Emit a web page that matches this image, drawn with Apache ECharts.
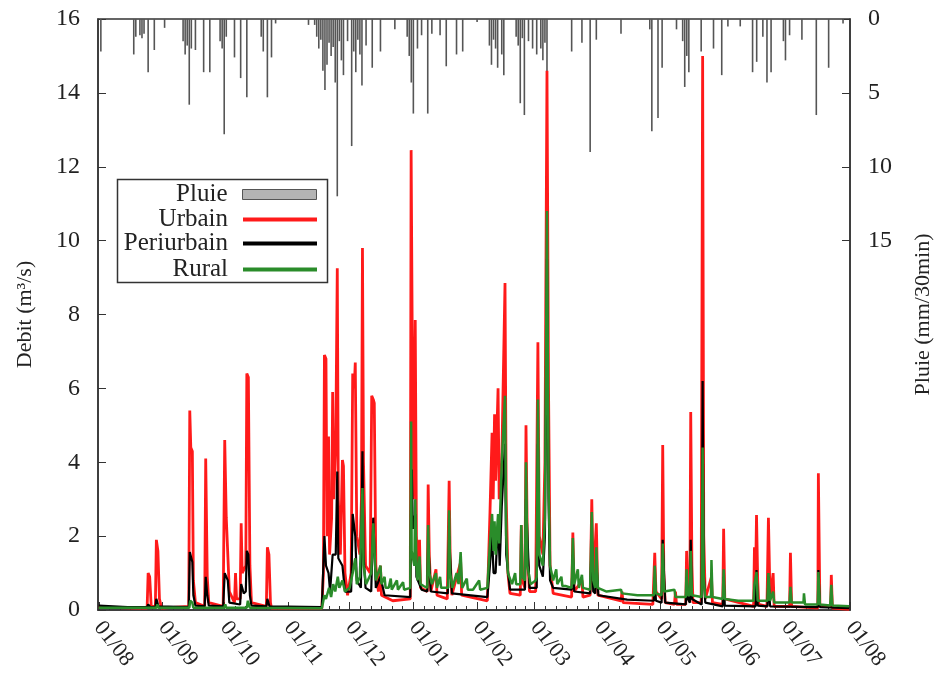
<!DOCTYPE html>
<html>
<head>
<meta charset="utf-8">
<script src="https://cdn.jsdelivr.net/npm/echarts@6/dist/echarts.min.js"></script>
<style>
  html, body { margin: 0; padding: 0; background: #fff; }
  #chart { width: 939px; height: 678px; }
</style>
</head>
<body>
<div id="chart"></div>
<script>
var pluie = [
  ['2010-08-02 00:00', 2.2], ['2010-08-18 00:00', 2.4], ['2010-08-19 00:00', 1.2], ['2010-08-21 00:00', 1.1], ['2010-08-22 00:00', 1.3],
  ['2010-08-23 00:00', 1.0], ['2010-08-25 00:00', 3.6], ['2010-08-28 00:00', 2.1], ['2010-09-02 00:00', 0.6], ['2010-09-11 00:00', 1.5],
  ['2010-09-12 00:00', 2.4], ['2010-09-13 00:00', 1.8], ['2010-09-14 00:00', 5.8], ['2010-09-15 00:00', 2.0], ['2010-09-17 00:00', 2.1],
  ['2010-09-21 00:00', 3.6], ['2010-09-24 00:00', 3.6], ['2010-09-29 00:00', 1.5], ['2010-09-30 00:00', 2.0], ['2010-10-01 00:00', 7.8],
  ['2010-10-02 00:00', 1.2], ['2010-10-06 00:00', 2.6], ['2010-10-09 00:00', 4.0], ['2010-10-12 00:00', 5.3], ['2010-10-19 00:00', 1.2],
  ['2010-10-20 00:00', 2.2], ['2010-10-22 00:00', 5.3], ['2010-10-24 00:00', 2.6], ['2010-10-26 00:00', 0.3], ['2010-11-11 00:00', 0.4],
  ['2010-11-14 00:00', 0.4], ['2010-11-15 00:00', 1.2], ['2010-11-16 00:00', 2.0], ['2010-11-17 00:00', 1.4], ['2010-11-18 00:00', 3.5],
  ['2010-11-19 00:00', 4.8], ['2010-11-20 00:00', 3.1], ['2010-11-21 00:00', 1.6], ['2010-11-22 00:00', 2.5], ['2010-11-23 00:00', 1.9],
  ['2010-11-24 00:00', 4.3], ['2010-11-25 00:00', 12.0], ['2010-11-26 00:00', 1.5], ['2010-11-27 00:00', 2.8], ['2010-11-28 00:00', 3.8],
  ['2010-11-30 00:00', 1.5], ['2010-12-02 00:00', 8.6], ['2010-12-03 00:00', 2.2], ['2010-12-04 00:00', 3.6], ['2010-12-05 00:00', 1.4],
  ['2010-12-06 00:00', 2.4], ['2010-12-07 00:00', 4.5], ['2010-12-09 00:00', 1.8], ['2010-12-12 00:00', 3.3], ['2010-12-16 00:00', 2.2],
  ['2010-12-23 00:00', 0.7], ['2010-12-29 00:00', 1.2], ['2010-12-30 00:00', 2.5], ['2010-12-31 00:00', 4.3], ['2011-01-01 00:00', 6.4],
  ['2011-01-03 00:00', 2.0], ['2011-01-05 00:00', 1.1], ['2011-01-08 00:00', 6.4], ['2011-01-10 00:00', 1.0], ['2011-01-14 00:00', 1.1],
  ['2011-01-17 00:00', 3.2], ['2011-01-22 00:00', 2.4], ['2011-01-25 00:00', 2.2], ['2011-02-01 00:00', 0.2], ['2011-02-07 00:00', 1.8],
  ['2011-02-08 00:00', 3.1], ['2011-02-09 00:00', 1.4], ['2011-02-10 00:00', 2.0], ['2011-02-11 00:00', 3.3], ['2011-02-13 00:00', 2.4],
  ['2011-02-14 00:00', 3.8], ['2011-02-20 00:00', 1.2], ['2011-02-21 00:00', 1.8], ['2011-02-22 00:00', 5.7], ['2011-02-23 00:00', 1.3],
  ['2011-02-24 00:00', 6.5], ['2011-02-26 00:00', 1.5], ['2011-02-28 00:00', 2.0], ['2011-03-02 00:00', 2.4], ['2011-03-04 00:00', 2.0],
  ['2011-03-05 00:00', 2.8], ['2011-03-06 00:00', 1.6], ['2011-03-07 00:00', 3.6], ['2011-03-19 00:00', 2.2], ['2011-03-24 00:00', 1.6],
  ['2011-03-28 00:00', 9.0], ['2011-03-31 00:00', 1.4], ['2011-04-12 00:00', 1.0], ['2011-04-26 00:00', 0.7], ['2011-04-27 00:00', 7.6],
  ['2011-04-30 00:00', 6.7], ['2011-05-02 00:00', 3.3], ['2011-05-09 00:00', 0.7], ['2011-05-12 00:00', 1.5], ['2011-05-13 00:00', 4.6],
  ['2011-05-14 00:00', 2.5], ['2011-05-15 00:00', 3.6], ['2011-05-21 00:00', 2.2], ['2011-05-27 00:00', 2.0], ['2011-05-31 00:00', 3.8],
  ['2011-06-03 00:00', 0.5], ['2011-06-09 00:00', 0.5], ['2011-06-15 00:00', 3.6], ['2011-06-17 00:00', 2.9], ['2011-06-20 00:00', 1.2],
  ['2011-06-22 00:00', 4.3], ['2011-06-24 00:00', 3.6], ['2011-06-30 00:00', 1.5], ['2011-07-01 00:00', 2.8], ['2011-07-03 00:00', 1.1],
  ['2011-07-09 00:00', 1.4], ['2011-07-16 00:00', 6.5], ['2011-07-22 00:00', 3.3], ['2011-07-29 00:00', 0.3]
];

// debit urbain (m3/s)
var urbain = [
  ['2010-08-01 00', 0.08], ['2010-08-20 00', 0.05],
  ['2010-08-24 12', 0.05], ['2010-08-25 00', 1.0], ['2010-08-25 18', 0.9], ['2010-08-26 12', 0.1],
  ['2010-08-28 12', 0.1], ['2010-08-29 00', 1.9], ['2010-08-29 18', 1.6], ['2010-08-30 12', 0.3], ['2010-08-31 12', 0.05],
  ['2010-09-13 18', 0.1], ['2010-09-14 06', 5.4], ['2010-09-14 18', 4.4], ['2010-09-15 12', 4.3], ['2010-09-16 00', 0.8], ['2010-09-17 00', 0.2],
  ['2010-09-21 12', 0.1], ['2010-09-22 00', 4.1], ['2010-09-22 18', 0.9], ['2010-09-23 12', 0.2],
  ['2010-09-30 12', 0.1], ['2010-10-01 06', 4.6], ['2010-10-02 00', 2.5], ['2010-10-02 18', 2.5], ['2010-10-03 12', 0.5],
  ['2010-10-06 00', 0.2], ['2010-10-06 12', 1.0], ['2010-10-07 00', 0.3],
  ['2010-10-08 18', 0.3], ['2010-10-09 06', 2.35], ['2010-10-09 18', 1.0], ['2010-10-10 12', 1.0], ['2010-10-11 12', 1.2],
  ['2010-10-12 00', 6.4], ['2010-10-12 18', 6.3], ['2010-10-13 12', 1.2], ['2010-10-14 06', 0.2],
  ['2010-10-21 12', 0.1], ['2010-10-22 00', 1.7], ['2010-10-22 18', 1.5], ['2010-10-23 12', 0.2], ['2010-10-24 00', 0.05],
  ['2010-11-17 12', 0.05], ['2010-11-18 06', 1.0], ['2010-11-18 18', 6.9], ['2010-11-19 12', 6.8], ['2010-11-20 00', 2.0],
  ['2010-11-20 18', 4.7], ['2010-11-21 06', 1.5], ['2010-11-22 06', 2.5], ['2010-11-22 18', 5.9], ['2010-11-23 06', 3.0],
  ['2010-11-24 06', 4.5], ['2010-11-25 00', 9.25], ['2010-11-25 12', 3.0], ['2010-11-26 12', 1.5], ['2010-11-27 12', 4.06],
  ['2010-11-28 00', 3.9], ['2010-11-28 18', 1.0], ['2010-11-30 00', 0.4], ['2010-12-01 18', 1.0], ['2010-12-02 12', 6.4],
  ['2010-12-03 06', 6.0], ['2010-12-03 18', 6.7], ['2010-12-04 12', 2.0], ['2010-12-06 00', 1.5], ['2010-12-06 18', 3.0],
  ['2010-12-07 06', 9.8], ['2010-12-07 18', 4.0], ['2010-12-08 18', 1.2], ['2010-12-11 00', 1.0], ['2010-12-11 18', 5.8],
  ['2010-12-12 12', 5.7], ['2010-12-13 00', 5.6], ['2010-12-13 18', 1.2], ['2010-12-15 00', 0.5], ['2010-12-16 00', 1.2],
  ['2010-12-16 12', 0.4], ['2010-12-22 00', 0.25], ['2010-12-30 12', 0.3],
  ['2010-12-30 22', 12.45], ['2010-12-31 12', 7.0], ['2011-01-01 00', 3.0], ['2011-01-01 22', 7.85], ['2011-01-02 12', 2.0],
  ['2011-01-03 00', 1.2], ['2011-01-04 00', 1.9], ['2011-01-04 12', 0.6], ['2011-01-07 18', 0.5], ['2011-01-08 05', 3.4],
  ['2011-01-08 18', 1.5], ['2011-01-09 12', 0.5], ['2011-01-12 00', 1.1], ['2011-01-12 12', 0.4], ['2011-01-17 12', 0.3],
  ['2011-01-18 10', 3.5], ['2011-01-18 22', 1.4], ['2011-01-19 18', 0.4], ['2011-01-24 00', 1.3], ['2011-01-24 12', 0.4],
  ['2011-02-06 00', 0.25], ['2011-02-07 06', 2.6], ['2011-02-08 07', 4.8], ['2011-02-08 20', 3.0], ['2011-02-09 12', 5.3],
  ['2011-02-10 00', 3.5], ['2011-02-11 05', 6.0], ['2011-02-11 18', 3.0], ['2011-02-13 00', 4.0], ['2011-02-14 14', 8.85],
  ['2011-02-15 04', 3.0], ['2011-02-16 00', 1.0], ['2011-02-17 00', 0.45], ['2011-02-22 00', 0.4], ['2011-02-22 12', 2.3],
  ['2011-02-23 00', 0.8], ['2011-02-24 06', 0.6], ['2011-02-24 19', 5.0], ['2011-02-25 12', 1.5], ['2011-02-26 12', 0.5],
  ['2011-03-01 12', 0.5], ['2011-03-02 14', 7.25], ['2011-03-03 06', 2.0], ['2011-03-05 00', 1.5], ['2011-03-06 00', 4.0],
  ['2011-03-07 00', 14.6], ['2011-03-07 18', 6.0], ['2011-03-08 12', 1.2], ['2011-03-10 00', 0.45], ['2011-03-19 00', 0.35],
  ['2011-03-19 14', 2.1], ['2011-03-20 06', 0.5], ['2011-03-24 00', 0.8], ['2011-03-24 12', 0.35], ['2011-03-28 00', 0.4],
  ['2011-03-28 19', 3.0], ['2011-03-29 12', 0.7], ['2011-03-31 00', 2.35], ['2011-03-31 18', 0.4], ['2011-04-12 00', 0.25],
  ['2011-04-12 12', 0.5], ['2011-04-13 00', 0.2], ['2011-04-27 12', 0.15], ['2011-04-28 10', 1.55], ['2011-04-29 00', 0.5],
  ['2011-05-01 18', 0.3], ['2011-05-02 07', 4.47], ['2011-05-02 20', 1.0], ['2011-05-03 12', 0.2], ['2011-05-08 00', 0.15],
  ['2011-05-08 12', 0.5], ['2011-05-09 00', 0.15], ['2011-05-13 12', 0.15], ['2011-05-13 22', 1.6], ['2011-05-14 12', 0.6],
  ['2011-05-15 12', 0.4], ['2011-05-15 22', 5.36], ['2011-05-16 12', 1.2], ['2011-05-17 00', 0.2], ['2011-05-21 00', 0.2],
  ['2011-05-21 17', 15.0], ['2011-05-22 06', 2.0], ['2011-05-23 00', 0.3], ['2011-05-26 00', 0.9], ['2011-05-26 12', 0.2],
  ['2011-05-31 12', 0.15], ['2011-05-31 22', 2.2], ['2011-06-01 12', 0.3], ['2011-06-15 12', 0.1], ['2011-06-15 22', 1.7],
  ['2011-06-16 12', 1.0], ['2011-06-16 22', 2.57], ['2011-06-17 12', 0.8], ['2011-06-18 00', 0.15], ['2011-06-22 00', 0.1],
  ['2011-06-22 17', 2.5], ['2011-06-23 12', 0.3], ['2011-06-25 00', 1.0], ['2011-06-25 12', 0.1], ['2011-07-03 00', 0.1],
  ['2011-07-03 10', 1.55], ['2011-07-04 00', 0.1], ['2011-07-16 18', 0.05], ['2011-07-17 00', 3.7], ['2011-07-17 18', 0.1],
  ['2011-07-23 00', 0.1], ['2011-07-23 07', 0.95], ['2011-07-23 20', 0.05], ['2011-08-01 00', 0.02]
];

// debit periurbain
var periurbain = [
  ['2010-08-01 00', 0.12], ['2010-08-15 00', 0.08],
  ['2010-08-24 12', 0.08], ['2010-08-25 00', 0.15], ['2010-08-26 00', 0.08],
  ['2010-08-28 12', 0.08], ['2010-08-29 00', 0.3], ['2010-08-30 00', 0.1],
  ['2010-09-13 18', 0.08], ['2010-09-14 06', 1.57], ['2010-09-15 12', 1.3], ['2010-09-16 00', 0.4], ['2010-09-17 00', 0.12],
  ['2010-09-21 12', 0.1], ['2010-09-22 00', 0.9], ['2010-09-22 18', 0.4], ['2010-09-23 12', 0.12],
  ['2010-09-30 12', 0.1], ['2010-10-01 06', 1.0], ['2010-10-02 18', 0.8], ['2010-10-03 12', 0.2],
  ['2010-10-08 18', 0.15], ['2010-10-09 06', 0.7], ['2010-10-10 12', 0.45], ['2010-10-11 12', 0.5], ['2010-10-12 00', 1.6],
  ['2010-10-12 18', 1.5], ['2010-10-13 12', 0.4], ['2010-10-14 06', 0.12],
  ['2010-10-21 12', 0.1], ['2010-10-22 00', 0.3], ['2010-10-23 00', 0.1],
  ['2010-11-17 12', 0.08], ['2010-11-18 18', 2.0], ['2010-11-19 12', 1.2], ['2010-11-20 18', 1.0], ['2010-11-21 12', 0.5],
  ['2010-11-22 18', 1.5], ['2010-11-24 06', 1.5], ['2010-11-25 00', 3.75], ['2010-11-25 12', 1.4], ['2010-11-27 12', 1.2],
  ['2010-11-28 18', 0.5], ['2010-12-01 18', 0.5], ['2010-12-02 12', 2.6], ['2010-12-03 18', 2.0], ['2010-12-04 12', 0.8],
  ['2010-12-06 12', 0.6], ['2010-12-07 06', 4.3], ['2010-12-07 18', 1.5], ['2010-12-08 18', 0.6], ['2010-12-11 12', 0.5],
  ['2010-12-12 12', 2.5], ['2010-12-13 18', 0.6], ['2010-12-16 00', 0.9], ['2010-12-18 00', 0.4], ['2010-12-30 12', 0.35],
  ['2010-12-30 22', 3.0], ['2010-12-31 06', 3.8], ['2010-12-31 18', 2.2], ['2011-01-01 22', 2.6], ['2011-01-02 12', 0.9],
  ['2011-01-05 00', 0.55], ['2011-01-07 18', 0.5], ['2011-01-08 05', 1.8], ['2011-01-09 12', 0.5], ['2011-01-17 18', 0.45],
  ['2011-01-18 10', 2.0], ['2011-01-19 18', 0.45], ['2011-02-06 00', 0.35], ['2011-02-07 06', 1.2], ['2011-02-08 07', 2.0],
  ['2011-02-09 00', 1.0], ['2011-02-10 00', 1.0], ['2011-02-11 05', 2.4], ['2011-02-12 00', 1.2], ['2011-02-13 00', 2.8],
  ['2011-02-14 14', 4.5], ['2011-02-15 04', 1.5], ['2011-02-17 00', 0.55], ['2011-02-24 06', 0.55], ['2011-02-24 19', 3.0],
  ['2011-02-26 12', 0.6], ['2011-03-02 00', 0.6], ['2011-03-02 14', 4.5], ['2011-03-03 06', 1.2], ['2011-03-05 00', 0.9],
  ['2011-03-06 00', 2.0], ['2011-03-07 00', 9.5], ['2011-03-07 18', 3.0], ['2011-03-08 12', 0.8], ['2011-03-10 00', 0.6],
  ['2011-03-19 00', 0.55], ['2011-03-19 14', 1.5], ['2011-03-20 06', 0.5], ['2011-03-28 00', 0.45], ['2011-03-28 19', 2.0],
  ['2011-03-29 12', 0.5], ['2011-03-30 12', 0.45], ['2011-03-31 00', 1.3], ['2011-04-01 00', 0.4], ['2011-04-15 00', 0.28],
  ['2011-04-28 00', 0.25], ['2011-04-28 10', 0.9], ['2011-04-29 00', 0.25], ['2011-05-01 18', 0.2], ['2011-05-02 07', 1.9],
  ['2011-05-03 12', 0.2], ['2011-05-13 12', 0.15], ['2011-05-13 22', 0.9], ['2011-05-14 12', 0.3], ['2011-05-15 12', 0.2],
  ['2011-05-15 22', 1.9], ['2011-05-16 12', 0.3], ['2011-05-21 06', 0.15], ['2011-05-21 17', 6.2], ['2011-05-22 06', 1.0],
  ['2011-05-23 00', 0.2], ['2011-05-31 12', 0.1], ['2011-05-31 22', 0.9], ['2011-06-01 12', 0.12], ['2011-06-16 12', 0.1],
  ['2011-06-16 22', 1.08], ['2011-06-17 12', 0.12], ['2011-06-22 06', 0.1], ['2011-06-22 17', 0.9], ['2011-06-23 12', 0.1],
  ['2011-07-16 18', 0.08], ['2011-07-17 00', 1.08], ['2011-07-17 18', 0.08], ['2011-08-01 00', 0.05]
];

// debit rural
var rural = [
  ['2010-08-01 00', 0.06], ['2010-08-29 00', 0.06], ['2010-08-29 12', 0.15], ['2010-08-30 00', 0.06],
  ['2010-09-14 00', 0.06], ['2010-09-14 12', 0.25], ['2010-09-15 12', 0.2], ['2010-09-16 00', 0.06],
  ['2010-10-01 00', 0.06], ['2010-10-01 12', 0.15], ['2010-10-02 00', 0.06],
  ['2010-10-12 00', 0.06], ['2010-10-12 12', 0.25], ['2010-10-13 12', 0.06],
  ['2010-11-17 12', 0.05], ['2010-11-18 18', 0.4], ['2010-11-19 12', 0.3], ['2010-11-21 00', 0.6], ['2010-11-22 00', 0.35],
  ['2010-11-23 00', 0.7], ['2010-11-24 00', 0.5], ['2010-11-25 06', 0.9], ['2010-11-26 00', 0.6], ['2010-11-27 12', 0.8],
  ['2010-11-28 18', 0.5], ['2010-12-01 00', 0.6], ['2010-12-02 12', 1.0], ['2010-12-03 18', 1.4], ['2010-12-04 12', 0.7],
  ['2010-12-06 00', 0.9], ['2010-12-07 06', 3.3], ['2010-12-07 18', 1.2], ['2010-12-09 00', 0.7], ['2010-12-11 12', 1.0],
  ['2010-12-12 12', 2.35], ['2010-12-13 18', 0.8], ['2010-12-16 00', 1.2], ['2010-12-16 12', 0.7], ['2010-12-18 00', 0.9],
  ['2010-12-18 12', 0.6], ['2010-12-20 00', 0.6], ['2010-12-21 00', 0.85], ['2010-12-21 12', 0.55], ['2010-12-24 00', 0.8],
  ['2010-12-24 12', 0.55], ['2010-12-27 00', 0.75], ['2010-12-27 12', 0.55], ['2010-12-30 12', 0.6], ['2010-12-30 22', 5.1],
  ['2010-12-31 04', 1.6], ['2011-01-01 12', 1.2], ['2011-01-01 22', 3.0], ['2011-01-02 12', 1.2], ['2011-01-03 00', 0.8],
  ['2011-01-04 00', 1.45], ['2011-01-04 12', 0.7], ['2011-01-06 00', 0.65], ['2011-01-07 18', 0.6], ['2011-01-08 05', 2.3],
  ['2011-01-08 18', 1.0], ['2011-01-10 00', 0.7], ['2011-01-12 00', 1.0], ['2011-01-12 12', 0.6], ['2011-01-14 00', 0.9],
  ['2011-01-14 12', 0.6], ['2011-01-18 00', 0.6], ['2011-01-18 10', 2.7], ['2011-01-18 22', 1.0], ['2011-01-20 00', 0.6],
  ['2011-01-22 00', 1.0], ['2011-01-23 00', 0.7], ['2011-01-24 00', 1.57], ['2011-01-24 18', 0.6], ['2011-01-27 00', 0.85],
  ['2011-01-27 12', 0.55], ['2011-01-30 00', 0.55], ['2011-02-02 00', 0.8], ['2011-02-02 12', 0.55], ['2011-02-06 00', 0.6],
  ['2011-02-07 06', 1.8], ['2011-02-08 07', 2.6], ['2011-02-09 00', 1.6], ['2011-02-09 12', 2.4], ['2011-02-10 00', 1.5],
  ['2011-02-11 05', 2.6], ['2011-02-11 18', 1.8], ['2011-02-13 00', 4.0], ['2011-02-14 14', 5.8], ['2011-02-15 04', 2.0],
  ['2011-02-16 00', 1.0], ['2011-02-18 00', 0.7], ['2011-02-19 12', 1.0], ['2011-02-20 00', 0.7], ['2011-02-22 00', 0.7],
  ['2011-02-22 12', 2.3], ['2011-02-23 00', 0.9], ['2011-02-24 06', 0.8], ['2011-02-24 19', 4.0], ['2011-02-25 12', 1.2],
  ['2011-02-27 00', 0.7], ['2011-03-01 12', 0.8], ['2011-03-02 00', 0.9], ['2011-03-02 14', 5.7], ['2011-03-03 06', 1.5],
  ['2011-03-05 00', 1.2], ['2011-03-06 00', 2.5], ['2011-03-07 00', 10.8], ['2011-03-07 18', 3.5], ['2011-03-08 12', 1.2],
  ['2011-03-10 00', 0.8], ['2011-03-11 12', 1.1], ['2011-03-12 00', 0.7], ['2011-03-14 00', 0.9], ['2011-03-14 12', 0.65],
  ['2011-03-16 00', 0.65], ['2011-03-19 00', 0.6], ['2011-03-19 14', 1.95], ['2011-03-20 06', 0.7], ['2011-03-22 00', 1.1],
  ['2011-03-22 12', 0.6], ['2011-03-24 00', 0.95], ['2011-03-24 12', 0.6], ['2011-03-28 00', 0.55], ['2011-03-28 19', 2.65],
  ['2011-03-29 12', 0.8], ['2011-03-30 12', 0.6], ['2011-03-31 00', 1.7], ['2011-03-31 18', 0.6], ['2011-04-05 00', 0.5],
  ['2011-04-12 00', 0.55], ['2011-04-12 12', 0.45], ['2011-04-20 00', 0.4], ['2011-04-28 00', 0.4], ['2011-04-28 10', 1.2],
  ['2011-04-29 00', 0.45], ['2011-05-01 18', 0.4], ['2011-05-02 07', 1.8], ['2011-05-03 00', 0.5], ['2011-05-08 00', 0.55],
  ['2011-05-08 12', 0.35], ['2011-05-13 12', 0.35], ['2011-05-13 22', 1.1], ['2011-05-14 12', 0.4], ['2011-05-15 12', 0.4],
  ['2011-05-15 22', 1.6], ['2011-05-16 12', 0.4], ['2011-05-21 06', 0.35], ['2011-05-21 17', 4.4], ['2011-05-22 06', 0.8],
  ['2011-05-23 00', 0.35], ['2011-05-25 18', 0.35], ['2011-05-26 00', 1.35], ['2011-05-26 12', 0.35], ['2011-05-31 12', 0.3],
  ['2011-05-31 22', 1.1], ['2011-06-01 12', 0.3], ['2011-06-08 00', 0.25], ['2011-06-15 12', 0.25], ['2011-06-15 22', 0.7],
  ['2011-06-16 22', 1.03], ['2011-06-17 12', 0.25], ['2011-06-22 06', 0.25], ['2011-06-22 17', 1.0], ['2011-06-23 12', 0.25],
  ['2011-06-25 00', 0.5], ['2011-06-25 12', 0.2], ['2011-07-03 00', 0.2], ['2011-07-03 10', 0.63], ['2011-07-04 00', 0.2],
  ['2011-07-09 18', 0.2], ['2011-07-10 00', 0.45], ['2011-07-10 12', 0.15], ['2011-07-16 18', 0.15], ['2011-07-17 00', 1.03],
  ['2011-07-17 18', 0.15], ['2011-07-22 18', 0.12], ['2011-07-23 07', 0.68], ['2011-07-23 20', 0.12], ['2011-08-01 00', 0.1]
];

var legendNames = ['Pluie', 'Urbain', 'Periurbain', 'Rural'];
var legendTops = [177, 202, 226, 252];
var pluieTicks = [0, 5, 10, 15];

var serif = 'Liberation Serif';
var chartDom = document.getElementById('chart');
var myChart = echarts.init(chartDom);
var option;

var legends = [];
for (let i = 0; i < legendNames.length; i++) {
  legends.push({
    data: [legendNames[i]],
    orient: 'vertical',
    align: 'right',
    right: 939 - 322,
    top: legendTops[i],
    itemWidth: 74,
    itemHeight: i == 0 ? 10 : 4,
    icon: 'rect',
    selectedMode: false,
    textStyle: { fontFamily: serif, fontSize: 25, color: '#222', padding: [0, 10, 0, 0] }
  });
}
// Pluie dans la legende : boite grise
legends[0].itemStyle = { color: '#b4b4b4', borderColor: '#555', borderWidth: 1 };

// jj/mm ; decale de 12 h pour ne pas tomber la veille selon le fuseau
function dayMonth(value) {
  var d = new Date(value + 12 * 3600 * 1000);
  var dd = ('0' + d.getDate()).slice(-2);
  var mm = ('0' + (d.getMonth() + 1)).slice(-2);
  return dd + '/' + mm;
}

option = {
  animation: false,
  backgroundColor: '#fff',
  grid: {
    left: 98, right: 89, top: 19, bottom: 68,
    outerBoundsMode: 'none',
    containLabel: false,
    show: true, borderColor: '#333', borderWidth: 1.5
  },
  legend: legends,
  graphic: [{
    type: 'rect',
    left: 115, top: 177,
    shape: { width: 210, height: 103 },
    style: { fill: 'none', stroke: '#333', lineWidth: 1.5 },
    z: 10
  }],
  xAxis: {
    type: 'time',
    min: '2010-08-01 00:00',
    max: '2011-08-01 00:00',
    minInterval: 28 * 24 * 3600 * 1000,
    maxInterval: 31 * 24 * 3600 * 1000,
    axisLine: { lineStyle: { color: '#333', width: 1.5 } },
    axisTick: { inside: true, length: 8, lineStyle: { color: '#333' } },
    minorTick: { show: true, splitNumber: 6, length: 4, lineStyle: { color: '#333' } },
    splitLine: { show: false },
    axisLabel: {
      formatter: dayMonth,
      rotate: -52,
      margin: 14,
      showMinLabel: true,
      showMaxLabel: true,
      fontFamily: serif,
      fontSize: 22,
      color: '#222'
    }
  },
  yAxis: [
    {
      type: 'value',
      min: 0, max: 16, interval: 2,
      position: 'left',
      name: 'Debit (m³/s)',
      nameLocation: 'middle',
      nameRotate: 90,
      nameGap: 62,
      nameTextStyle: { fontFamily: serif, fontSize: 22, color: '#222' },
      axisLine: { show: true, lineStyle: { color: '#333', width: 1.5 } },
      axisTick: { show: true, inside: true, length: 8, lineStyle: { color: '#333' } },
      splitLine: { show: false },
      axisLabel: { fontFamily: serif, fontSize: 24, color: '#222', margin: 18 }
    },
    {
      type: 'value',
      min: 0, max: 40, interval: 5,
      inverse: true,
      position: 'right',
      name: 'Pluie (mm/30min)',
      nameLocation: 'middle',
      nameRotate: 90,
      nameGap: 62,
      nameTextStyle: { fontFamily: serif, fontSize: 22, color: '#222' },
      axisLine: { show: true, lineStyle: { color: '#333', width: 1.5 } },
      axisTick: { show: true, inside: true, length: 8, customValues: pluieTicks, lineStyle: { color: '#333' } },
      splitLine: { show: false },
      axisLabel: { customValues: pluieTicks, fontFamily: serif, fontSize: 24, color: '#222', margin: 18 }
    }
  ],
  series: [
    {
      name: 'Pluie',
      type: 'bar',
      yAxisIndex: 1,
      data: pluie,
      barWidth: 1.6,
      itemStyle: { color: '#555' },
      z: 1
    },
    {
      name: 'Urbain',
      type: 'line',
      data: urbain,
      symbol: 'none',
      itemStyle: { color: '#ff1a1a' },
      lineStyle: { color: '#ff1a1a', width: 2.8 },
      z: 2
    },
    {
      name: 'Periurbain',
      type: 'line',
      data: periurbain,
      symbol: 'none',
      itemStyle: { color: '#000' },
      lineStyle: { color: '#000', width: 2.2 },
      z: 3
    },
    {
      name: 'Rural',
      type: 'line',
      data: rural,
      symbol: 'none',
      itemStyle: { color: '#2a8c2a' },
      lineStyle: { color: '#2a8c2a', width: 2.5 },
      z: 4
    }
  ]
};

option && myChart.setOption(option);
</script>
</body>
</html>
